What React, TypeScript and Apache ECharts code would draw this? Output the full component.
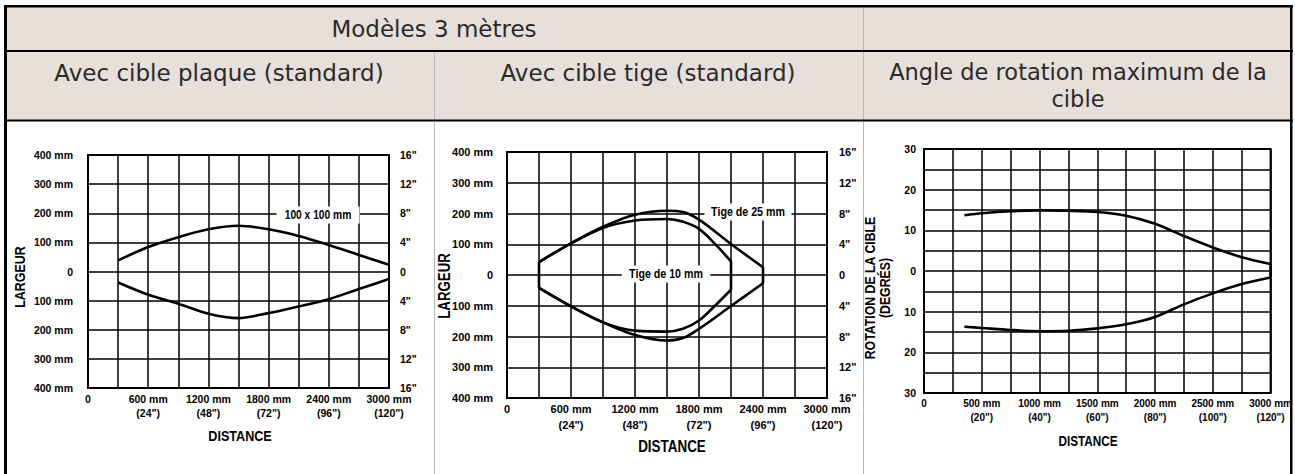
import React, { useEffect, useRef } from "react";
import * as echarts from "echarts";

// ---------- data ----------
const plaqueX = [300, 600, 900, 1200, 1500, 1800, 2100, 2400, 2700, 3000];
const plaqueUpper = [38, 84, 118, 145, 157, 145, 122, 91, 57, 23];
const plaqueLower = [-38, -80, -111, -145, -160, -143, -120, -95, -60, -26];

const tigeX = [300, 600, 900, 1200, 1500, 1650, 1800, 2100, 2400];
const tige25Upper = [42, 103, 157, 196, 209, 205, 180, 101, 25];
const tige25Lower = [-42, -102, -154, -195, -213, -205, -175, -101, -27];
const tige10X = [300, 600, 900, 1200, 1500, 1650, 1800, 1950, 2100];
const tige10Upper = [42, 103, 153, 177, 182, 173, 150, 101, 44];
const tige10Lower = [-42, -102, -154, -181, -184, -175, -148, -100, -48];

const rotX = [350, 500, 750, 1000, 1250, 1500, 1750, 2000, 2250, 2500, 2750, 3000];
const rotUpper = [13.7, 14.2, 14.7, 14.9, 14.8, 14.5, 13.6, 11.6, 8.6, 5.8, 3.4, 1.7];
const rotLower = [-13.7, -14.0, -14.5, -14.8, -14.7, -14.1, -13.1, -11.3, -8.2, -5.5, -3.2, -1.6];

const headerRow1 = ["Modèles 3 mètres"];
const headerRow2 = ["Avec cible plaque (standard)", "Avec cible tige (standard)", "Angle de rotation maximum de la", "cible"];

const NARROW = "'Liberation Sans Narrow', 'Arial Narrow', 'Liberation Sans', Arial, sans-serif";
const HEAD_FONT = "'DejaVu Sans', Verdana, sans-serif";

const zip = (xs: number[], ys: number[]) => xs.map((x, i) => [x, ys[i]]);

function lineSeries(name: string, data: number[][], xi: number, yi: number, smooth: number | boolean) {
  return {
    type: "line",
    name,
    xAxisIndex: xi,
    yAxisIndex: yi,
    data,
    smooth,
    symbol: "none",
    lineStyle: { color: "#000", width: 2.6 },
    z: 5,
  };
}

export default function App() {
  const ref = useRef<HTMLDivElement>(null);
  useEffect(() => {
    if (!ref.current) return;
    const chart = echarts.init(ref.current, undefined, { renderer: "svg" });

    const split = { show: true, lineStyle: { color: "#000", width: 1.5 } };
    const lbl = (size: number, margin: number, fmt: (v: number) => string, lh?: number) => ({
      fontFamily: NARROW,
      fontWeight: "bold",
      fontSize: size,
      color: "#000",
      margin,
      lineHeight: lh,
      formatter: fmt,
    });
    const mmFmt = (v: number) => (v === 0 ? "0" : Math.abs(v) + " mm");
    const inFmt = (v: number) => (v === 0 ? "0" : Math.abs(v) + '"');
    const x600 = (v: number) => (v === 0 ? "0" : v % 600 === 0 ? `${v} mm\n(${v / 25}")` : "");
    const x500 = (v: number) => (v === 0 ? "0" : v % 500 === 0 ? `${v} mm\n(${v / 25}")` : "");
    const degFmt = (v: number) => (v % 10 === 0 ? String(Math.abs(v)) : "");

    const baseX = { type: "value", min: 0, max: 3000, axisLine: { show: false }, axisTick: { show: false }, splitLine: split };
    const baseY = { type: "value", axisLine: { show: false }, axisTick: { show: false } };

    const txt = (text: string, x: number, y: number, size: number, opts: any = {}) => ({
      type: "text",
      x,
      y,
      rotation: opts.rotation || 0,
      scaleX: opts.scaleX || 1,
      z: opts.z || 10,
      style: {
        text,
        fill: opts.fill || "#000",
        font: `${opts.weight || "bold"} ${size}px ${opts.family || NARROW}`,
        align: "center",
        verticalAlign: "middle",
        lineHeight: opts.lineHeight,
        backgroundColor: opts.bg,
        padding: opts.padding,
      },
    });

    const border = "#000";
    const head = { weight: "normal", family: HEAD_FONT, fill: "#2a2a2a" };
    const graphics: any[] = [
      // header backgrounds
      { type: "rect", shape: { x: 6, y: 6, width: 1285, height: 45 }, style: { fill: "#e6dfda" }, z: 1 },
      { type: "rect", shape: { x: 6, y: 51, width: 1285, height: 70 }, style: { fill: "#e6dfda" }, z: 1 },
      // gray separators
      { type: "line", shape: { x1: 863.5, y1: 6, x2: 863.5, y2: 474 }, style: { stroke: "#b8b8b8", lineWidth: 1 }, z: 2 },
      { type: "line", shape: { x1: 434.5, y1: 51, x2: 434.5, y2: 474 }, style: { stroke: "#b8b8b8", lineWidth: 1 }, z: 2 },
      // thick borders
      { type: "rect", shape: { x: 4, y: 5, width: 1289, height: 2.5 }, style: { fill: border }, z: 3 },
      { type: "rect", shape: { x: 4, y: 5, width: 3, height: 469 }, style: { fill: border }, z: 3 },
      { type: "rect", shape: { x: 1290, y: 5, width: 2.5, height: 469 }, style: { fill: border }, z: 3 },
      { type: "rect", shape: { x: 4, y: 50, width: 1289, height: 2 }, style: { fill: border }, z: 3 },
      { type: "rect", shape: { x: 4, y: 119.5, width: 1289, height: 2 }, style: { fill: border }, z: 3 },
      // header texts
      txt(headerRow1[0], 434, 29, 23, head),
      txt(headerRow2[0], 219, 73, 23, head),
      txt(headerRow2[1], 648, 73, 23, head),
      txt(headerRow2[2], 1078, 72, 22.5, head),
      txt(headerRow2[3], 1078, 99, 22.5, head),
      // axis titles
      txt("DISTANCE", 240, 436, 15, { scaleX: 0.84 }),
      txt("LARGEUR", 20, 277, 15, { rotation: Math.PI / 2, scaleX: 0.83 }),
      txt("DISTANCE", 672, 447, 16, { scaleX: 0.84 }),
      txt("LARGEUR", 445, 286, 16, { rotation: Math.PI / 2, scaleX: 0.83 }),
      txt("DISTANCE", 1088, 441, 14, { scaleX: 0.84 }),
      txt("ROTATION DE LA CIBLE\n(DEGRÉS)", 878, 288, 14, { rotation: Math.PI / 2, lineHeight: 15, scaleX: 0.88 }),
      // curve labels
      txt("100 x 100 mm", 318, 215, 12.5, { bg: "#fff", padding: [2, 10], z: 60, scaleX: 0.82 }),
      txt("Tige de 25 mm", 748, 212, 13, { bg: "#fff", padding: [2, 8], z: 60, scaleX: 0.82 }),
      txt("Tige de 10 mm", 666, 274, 13, { bg: "#fff", padding: [2, 9], z: 60, scaleX: 0.82 }),
    ];

    chart.setOption({
      animation: false,
      backgroundColor: "#fff",
      grid: [
        { left: 88, top: 155, width: 301, height: 233, show: true, borderColor: "#000", borderWidth: 2, backgroundColor: "transparent" },
        { left: 507, top: 152, width: 320, height: 246, show: true, borderColor: "#000", borderWidth: 2, backgroundColor: "transparent" },
        { left: 924, top: 149, width: 351, height: 244, show: true, borderColor: "#000", borderWidth: 2, backgroundColor: "transparent" },
      ],
      xAxis: [
        { ...baseX, gridIndex: 0, interval: 300, axisLabel: lbl(10.5, 4, x600, 14) },
        { ...baseX, gridIndex: 1, interval: 300, axisLabel: lbl(11, 3, x600, 16) },
        { ...baseX, gridIndex: 2, interval: 250, axisLabel: lbl(10, 4, x500, 13.5) },
      ],
      yAxis: [
        { ...baseY, gridIndex: 0, min: -400, max: 400, interval: 100, position: "left", splitLine: split, axisLabel: lbl(10.5, 15, mmFmt) },
        { ...baseY, gridIndex: 0, min: -16, max: 16, interval: 4, position: "right", splitLine: { show: false }, axisLabel: lbl(10.5, 11, inFmt) },
        { ...baseY, gridIndex: 1, min: -400, max: 400, interval: 100, position: "left", splitLine: split, axisLabel: lbl(11, 14, mmFmt) },
        { ...baseY, gridIndex: 1, min: -16, max: 16, interval: 4, position: "right", splitLine: { show: false }, axisLabel: lbl(11, 12, inFmt) },
        { ...baseY, gridIndex: 2, min: -30, max: 30, interval: 5, position: "left", splitLine: split, axisLabel: lbl(10.5, 8, degFmt) },
      ],
      series: [
        lineSeries("plaque haut", zip(plaqueX, plaqueUpper), 0, 0, 0.3),
        lineSeries("plaque bas", zip(plaqueX, plaqueLower), 0, 0, 0.3),

        lineSeries("tige 25 haut", zip(tigeX, tige25Upper), 1, 2, 0.35),
        lineSeries("tige 25 bas", zip(tigeX, tige25Lower), 1, 2, 0.35),
        lineSeries("tige 25 fin", [[tigeX[tigeX.length - 1], tige25Upper[tige25Upper.length - 1]], [tigeX[tigeX.length - 1], tige25Lower[tige25Lower.length - 1]]], 1, 2, false),
        lineSeries("tige 10 haut", zip(tige10X, tige10Upper), 1, 2, 0.35),
        lineSeries("tige 10 bas", zip(tige10X, tige10Lower), 1, 2, 0.35),
        lineSeries("tige 10 fin", [[tige10X[tige10X.length - 1], tige10Upper[tige10Upper.length - 1]], [tige10X[tige10X.length - 1], tige10Lower[tige10Lower.length - 1]]], 1, 2, false),
        lineSeries("tige début", [[tigeX[0], tige25Upper[0]], [tigeX[0], tige25Lower[0]]], 1, 2, false),

        lineSeries("rotation haut", zip(rotX, rotUpper), 2, 4, 0.3),
        lineSeries("rotation bas", zip(rotX, rotLower), 2, 4, 0.3),
        lineSeries("rotation fin", [[rotX[rotX.length - 1], rotUpper[rotUpper.length - 1]], [rotX[rotX.length - 1], rotLower[rotLower.length - 1]]], 2, 4, false),
      ],
      graphic: graphics,
    });
    return () => chart.dispose();
  }, []);

  return <div ref={ref} style={{ position: "absolute", left: 0, top: 0, width: 1295, height: 474 }} />;
}
